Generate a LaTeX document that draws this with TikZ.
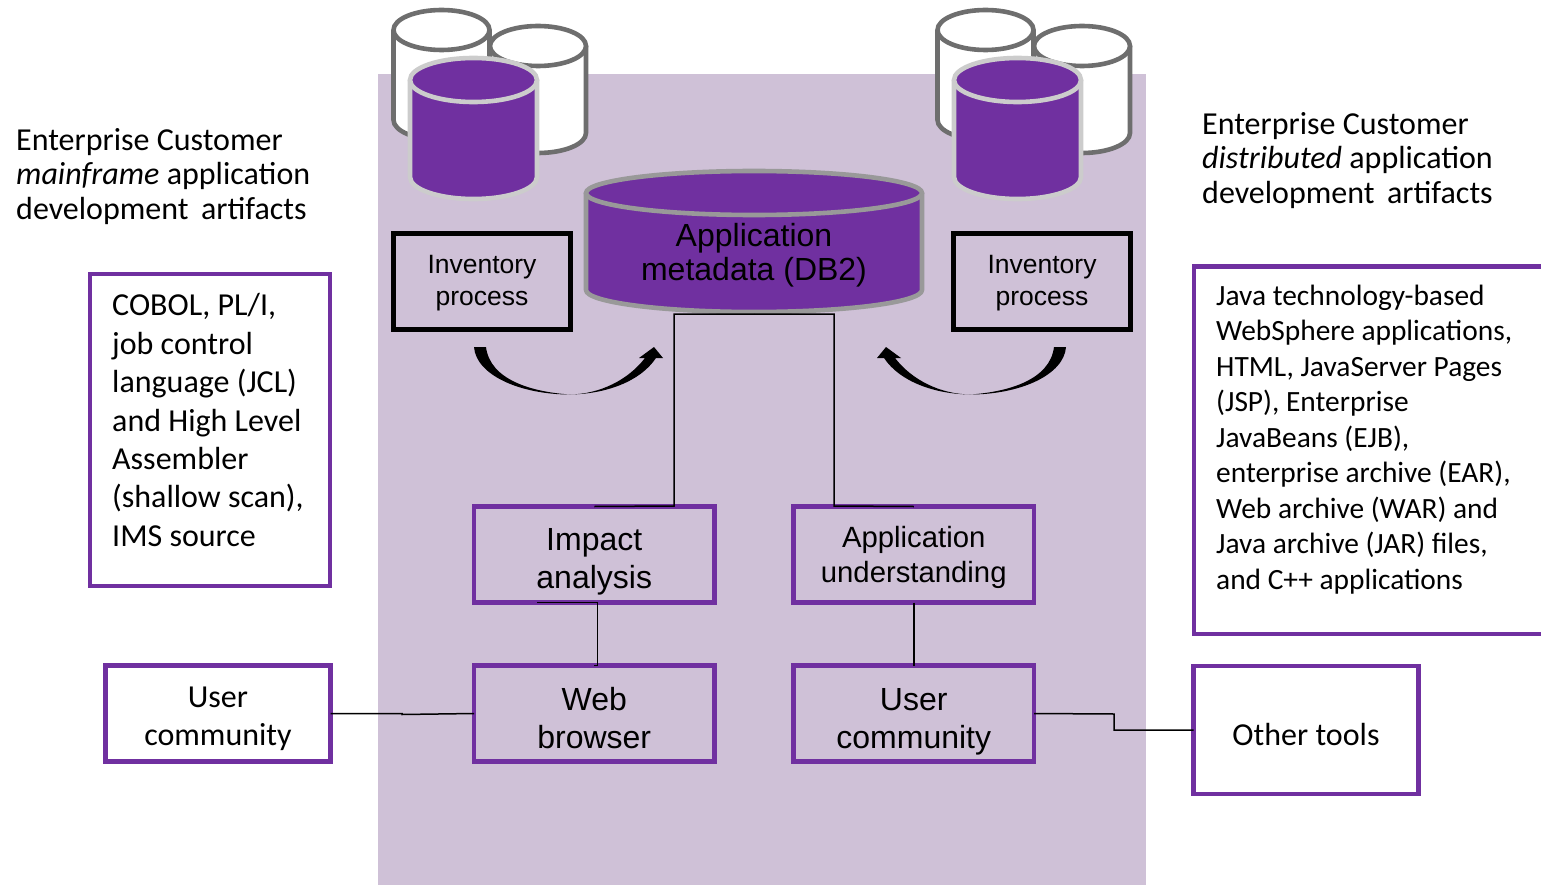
\documentclass[tikz,border=0pt]{standalone}
\usepackage{fontspec}
\setmainfont{Carlito}
\newfontfamily\arialf{Liberation Sans}
\definecolor{bgl}{HTML}{CFC1D7}
\definecolor{pur}{HTML}{7030A0}
\definecolor{gd}{HTML}{6E6E6E}
\definecolor{gl}{HTML}{CCCCCC}
\definecolor{gm}{HTML}{999999}
\newcommand{\cyl}[8]{% cx, top cy, rx, ry, h, fill, stroke, lw
  \draw[#7,line width=#8,fill=#6,line join=round] (#1-#3,#2) -- (#1-#3,#2+#5) arc[start angle=180,end angle=0,x radius=#3,y radius=#4] -- (#1+#3,#2);
  \draw[#7,line width=#8,fill=#6] (#1,#2) ellipse[x radius=#3,y radius=#4];
}
\newcommand{\swoop}{%
  \fill (474,347) .. controls (476,375) and (520,394.5) .. (570,394.5)
    .. controls (600,394) and (628,380) .. (645,358) -- (639,358) -- (654,347) -- (663,358) -- (656,358)
    .. controls (640,382) and (605,394) .. (570,394.5)
    .. controls (532,392) and (490,380) .. (486,347) -- cycle;
}
\newcommand{\tfix}[1]{\rule{0pt}{#1pt}}
\newcommand{\bfix}[1]{\rule[-#1pt]{0pt}{#1pt}}
\tikzset{
 pbox/.style={draw=pur,line width=4.6pt,fill=none,align=center,inner sep=0pt,text=black,outer sep=0pt},
 kbox/.style={draw=black,line width=4.6pt,align=center,inner sep=0pt,text=black,outer sep=0pt},
 wbox/.style={pbox,fill=white},
 conn/.style={draw=black,line width=1.5pt},
 connb/.style={draw=black,line width=2.4pt},
 label/.style={align=left,anchor=north west,inner sep=0pt,text=black},
 lbl/.style={font=\fontsize{32}{34.5}\selectfont},
 big/.style={font=\arialf\fontsize{32}{38}\selectfont},
 inv/.style={font=\arialf\fontsize{26.5}{32}\selectfont},
}
\begin{document}
\begin{tikzpicture}[x=1pt,y=-1pt]
\useasboundingbox (0,0) rectangle (1541,885);
\fill[bgl] (378,74) rectangle (1146,885);
\cyl{441.5}{30}{48}{20}{90}{white}{gd}{4.6pt}
\cyl{538}{46}{48}{20}{87}{white}{gd}{4.6pt}
\cyl{473.5}{80}{63.5}{22}{97}{pur}{gl}{4.6pt}
\cyl{985.5}{30}{48}{20}{90}{white}{gd}{4.6pt}
\cyl{1082}{46}{48}{20}{87}{white}{gd}{4.6pt}
\cyl{1017.5}{80}{63.5}{22}{97}{pur}{gl}{4.6pt}
\cyl{754}{193}{168}{22}{97}{pur}{gm}{4.6pt}
\node[big,align=center,inner sep=0pt,text=black,minimum width=336pt,minimum height=118pt,font=\arialf\fontsize{32}{34}\selectfont] (db) at (754,255) {Application\\metadata (DB2)};
\node[kbox,inv,minimum width=177pt,minimum height=96pt] (inv1) at (482,281.5) {\tfix{22}Inventory\\process\bfix{7}};
\node[kbox,inv,minimum width=177pt,minimum height=96pt] (inv2) at (1042,281.5) {\tfix{22}Inventory\\process\bfix{7}};
\node[pbox,big,minimum width=240.5pt,minimum height=96pt] (imp) at (594.25,554.5) {\tfix{37}Impact\\analysis\bfix{6}};
\node[pbox,minimum width=240.5pt,minimum height=96pt,font=\arialf\fontsize{29.3}{35}\selectfont] (und) at (913.75,554.5) {\tfix{28}Application\\understanding\bfix{7}};
\node[pbox,big,minimum width=240.5pt,minimum height=96pt] (web) at (594.25,713.5) {\tfix{37}Web\\browser\bfix{6}};
\node[pbox,big,minimum width=240.5pt,minimum height=96pt] (uc2) at (913.75,713.5) {\tfix{38}User\\community\bfix{6}};
\node[wbox,minimum width=225pt,minimum height=96pt,font=\fontsize{32}{38}\selectfont] (uc1) at (218,713.5) {\tfix{32}User\\community\bfix{7}};
\node[wbox,lbl,minimum width=225pt,minimum height=128pt] (oth) at (1306,730) {\tfix{38}Other tools\bfix{7}};
\draw[draw=pur,line width=4.6pt,fill=white] (90,274) rectangle (330,586);
\node[label,font=\fontsize{32}{38.4}\selectfont] (mf) at (112,293.5) {COBOL, PL/I,\\job control\\language (JCL)\\and High Level\\Assembler\\(shallow scan),\\IMS source};
\draw[draw=pur,line width=4.6pt,fill=white] (1560,266.5) -- (1194,266.5) -- (1194,634) -- (1560,634);
\node[label,font=\fontsize{29.4}{35.5}\selectfont] (ds) at (1216,284.5) {Java technology-based\\WebSphere applications,\\HTML, JavaServer Pages\\(JSP), Enterprise\\JavaBeans (EJB),\\enterprise archive (EAR),\\Web archive (WAR) and\\Java archive (JAR) files,\\and C++ applications};
\node[label,lbl] (t1) at (16,128) {Enterprise Customer\\\textit{mainframe} application\\development\ \,artifacts};
\node[label,lbl] (t2) at (1202,112) {Enterprise Customer\\\textit{distributed} application\\development\ \,artifacts};
\coordinate (dbl) at (674,506);
\coordinate (dbr) at (834,506);
\coordinate (stub) at (537,602.5);
\coordinate (bend) at (597.5,602.5);
\coordinate (kinka) at (402,713.5);
\coordinate (kinkb) at (402,714.5);
\coordinate (step) at (1114,714);
\coordinate (stepb) at (1114,730);
\draw[conn] (db.south) -| (dbl) -- (imp.north);
\draw[conn] (db.south) -| (dbr) -- (und.north);
\draw[conn] (stub) -- (bend) -- (bend |- web.north) -- (web.north);
\draw[connb] (und.south) -- (uc2.north);
\draw[conn] (uc1.east) -- (kinka) -- (kinkb) -- (web.west);
\draw[conn] (uc2.east) -- (step) -- (stepb) -- (oth.west);
\swoop
\begin{scope}[xshift=1540pt,xscale=-1]
\swoop
\end{scope}
\end{tikzpicture}
\end{document}
